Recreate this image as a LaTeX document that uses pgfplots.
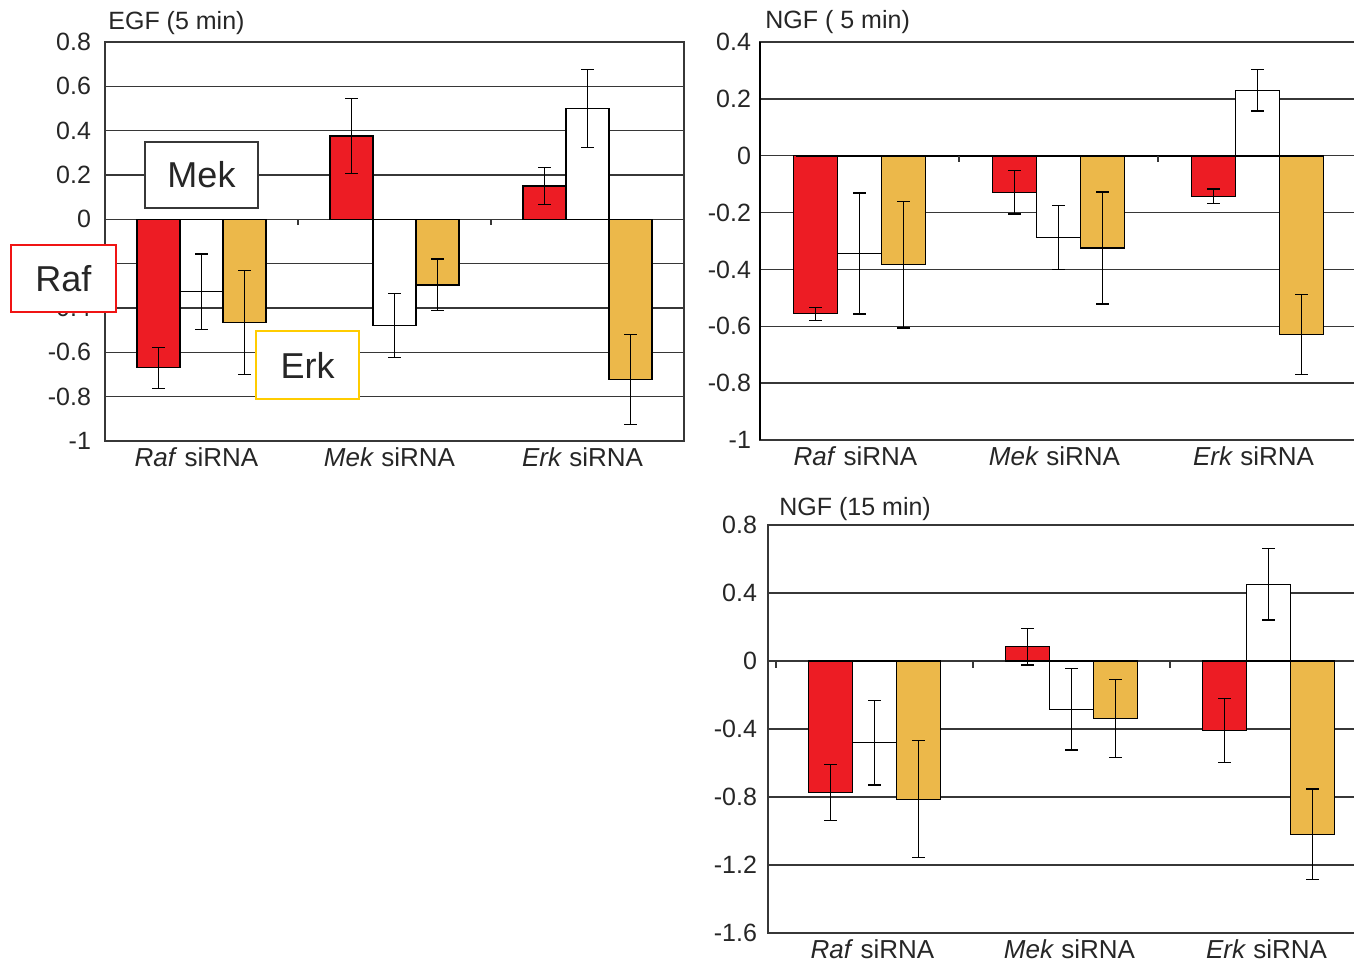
\documentclass[border=0pt]{standalone}
\usepackage{fontspec}
\setmainfont{Liberation Sans}
\usepackage{pgfplots}
\pgfplotsset{compat=1.18}

\definecolor{rafred}{RGB}{237,28,36}
\definecolor{erkgold}{RGB}{236,184,74}
\definecolor{gridgray}{RGB}{55,55,55}
\definecolor{legyellow}{RGB}{255,204,0}
\definecolor{legred}{RGB}{240,20,20}

\pgfplotsset{
  siRNApanel/.style={
    scale only axis,
    ybar=0pt,
    clip=false,
    xtick={0,1,2},
    xticklabels={\textit{Raf} siRNA,\textit{Mek} siRNA,\textit{Erk} siRNA},
    major tick length=0pt,
    ymajorgrids,
    grid style={line width=0.75pt, gridgray},
    axis line style={line width=0.75pt, gridgray},
    /pgf/number format/assume math mode=true,
    yticklabel style={/pgf/number format/fixed, /pgf/number format/precision=1,
      font=\fontsize{12.5}{14}\selectfont, text=black!85},
    xticklabel style={font=\fontsize{13}{15}\selectfont, text=black!85},
    title style={at={(0,1)}, anchor=base west, inner sep=0pt,
      font=\fontsize{12.5}{14}\selectfont, text=black!85},
  },
  errstyle/.style={
    /pgfplots/error bars/y dir=both,
    /pgfplots/error bars/y explicit,
    /pgfplots/error bars/error bar style={line width=0.6pt, black},
    /pgfplots/error bars/error mark options={rotate=90, mark size=3.2pt, line width=0.6pt, black},
  },
  barR/.style={fill=rafred, draw=black, line width=0.6pt, errstyle},
  barM/.style={fill=white, draw=black, line width=0.6pt, errstyle},
  barE/.style={fill=erkgold, draw=black, line width=0.6pt, errstyle},
}

% short separator ticks hanging below the zero line
\newcommand{\septick}[2][3pt]{%
  \draw[gridgray, line width=0.75pt] (axis cs:#2,0) -- ([yshift=-#1]axis cs:#2,0);}

\begin{document}
\begin{tikzpicture}
\useasboundingbox (0,0) rectangle (677pt,481pt);

% EGF, 5 min
\begin{axis}[siRNApanel,
  at={(52.5pt,260.5pt)}, anchor=south west,
  width=289.5pt, height=199.5pt,
  xmin=-0.5, xmax=2.5, ymin=-1, ymax=0.8,
  ytick={-1,-0.8,-0.6,-0.4,-0.2,0,0.2,0.4,0.6,0.8},
  bar width=21.5pt,
  yticklabel style={xshift=-3.5pt},
  xticklabel style={xshift=-2.5pt},
  title={EGF (5 min)}, title style={xshift=1.5pt, yshift=0pt},
]
\addplot[barR] coordinates {(0,-0.670) +- (0,0.093) (1,0.376) +- (0,0.170) (2,0.150) +- (0,0.083)};
\addplot[barM] coordinates {(0,-0.326) +- (0,0.170) (1,-0.478) +- (0,0.145) (2,0.500) +- (0,0.175)};
\addplot[barE] coordinates {(0,-0.466) +- (0,0.235) (1,-0.296) +- (0,0.117) (2,-0.724) +- (0,0.203)};
\septick{0.5}
\septick{1.5}
\end{axis}

% NGF, 5 min
\begin{axis}[siRNApanel,
  at={(380pt,261pt)}, anchor=south west,
  width=298.5pt, height=199pt,
  xmin=-0.5, xmax=2.5, ymin=-1, ymax=0.4,
  ytick={-1,-0.8,-0.6,-0.4,-0.2,0,0.2,0.4},
  bar width=22pt,
  yticklabel style={xshift=-1pt},
  xticklabel style={xshift=-2pt},
  title={NGF ( 5 min)}, title style={xshift=2.5pt, yshift=0.5pt},
]
\addplot[barR] coordinates {(0,-0.556) +- (0,0.023) (1,-0.129) +- (0,0.076) (2,-0.143) +- (0,0.026)};
\addplot[barM] coordinates {(0,-0.344) +- (0,0.213) (1,-0.287) +- (0,0.113) (2,0.230) +- (0,0.073)};
\addplot[barE] coordinates {(0,-0.384) +- (0,0.222) (1,-0.325) +- (0,0.197) (2,-0.630) +- (0,0.141)};
\draw[black, line width=1.4pt] (rel axis cs:0,0) -- (rel axis cs:0,1);
\draw[black, line width=1.2pt] (axis cs:-0.32,0) -- (axis cs:2.33,0);
\septick{0.5}
\septick{1.5}
\end{axis}

% NGF, 15 min
\begin{axis}[siRNApanel,
  at={(384pt,14.5pt)}, anchor=south west,
  width=299.5pt, height=204pt,
  xmin=-0.54, xmax=2.5, ymin=-1.6, ymax=0.8,
  ytick={-1.6,-1.2,-0.8,-0.4,0,0.4,0.8},
  bar width=22pt,
  yticklabel style={xshift=-2pt},
  xticklabel style={xshift=-1pt},
  title={NGF (15 min)}, title style={xshift=5.5pt, yshift=-1.5pt},
]
\addplot[barR] coordinates {(0,-0.773) +- (0,0.164) (1,0.084) +- (0,0.107) (2,-0.410) +- (0,0.188)};
\addplot[barM] coordinates {(0,-0.480) +- (0,0.249) (1,-0.283) +- (0,0.240) (2,0.451) +- (0,0.210)};
\addplot[barE] coordinates {(0,-0.813) +- (0,0.344) (1,-0.340) +- (0,0.230) (2,-1.020) +- (0,0.267)};
\septick[3.5pt]{-0.5}
\septick[3.5pt]{0.5}
\septick[3.5pt]{1.5}
\end{axis}

% legend boxes
\node[draw=gridgray, line width=1pt, fill=white, minimum width=56.5pt, minimum height=33pt,
  inner sep=0pt, text=black!85, font=\fontsize{18}{20}\selectfont] at (100.75pt,393.5pt) {Mek};
\node[draw=legred, line width=1pt, fill=white, minimum width=52.5pt, minimum height=33.5pt,
  inner sep=0pt, text=black!85, font=\fontsize{18}{20}\selectfont] at (31.75pt,341.75pt) {Raf};
\node[draw=legyellow, line width=1pt, fill=white, minimum width=51.5pt, minimum height=34pt,
  inner sep=0pt, text=black!85, font=\fontsize{18}{20}\selectfont] at (153.75pt,298.5pt) {Erk};
\end{tikzpicture}
\end{document}
